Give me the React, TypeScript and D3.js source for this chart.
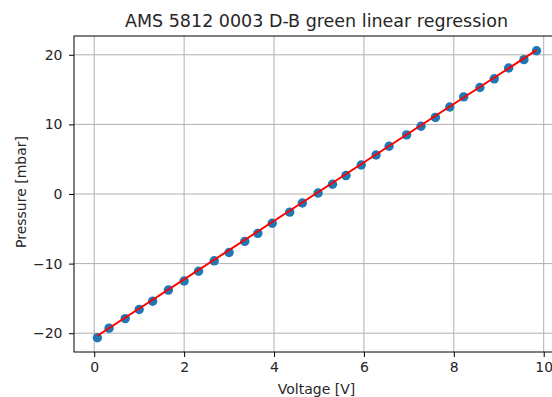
import React, { useEffect, useRef } from 'react';
import * as d3 from 'd3';

// readings
const voltage = [0.07, 0.33, 0.69, 1.0, 1.3, 1.65, 2.0, 2.32, 2.67, 3.0, 3.35, 3.64, 3.96, 4.35, 4.63, 4.98,
    5.3, 5.6, 5.94, 6.27, 6.56, 6.95, 7.27, 7.59, 7.91, 8.22, 8.58, 8.9, 9.22, 9.56, 9.84];
const pressure = [-20.66, -19.28, -17.9, -16.6, -15.4, -13.8, -12.5, -11.1, -9.6, -8.4, -6.8, -5.65, -4.2, -2.6, -1.3, 0.14,
    1.4, 2.65, 4.17, 5.6, 6.86, 8.5, 9.74, 11.0, 12.5, 13.96, 15.3, 16.55, 18.1, 19.3, 20.58];

// regression fit
const slope = 4.2;
const intercept = -20.66;

const xTicks = [0, 2, 4, 6, 8, 10];
const yTicks = [-20, -10, 0, 10, 20];
const xLimits = [-0.45, 10.34];
const yLimits = [-22.7, 22.7];

const title = 'AMS 5812 0003 D-B green linear regression';
const xLabel = 'Voltage [V]';
const yLabel = 'Pressure [mbar]';

const width = 552;
const height = 397;

const App: React.FC = () => {
    const svgRef = useRef<SVGSVGElement | null>(null);

    useEffect(() => {
        if (!svgRef.current) return;
        const svg = d3.select(svgRef.current);
        svg.selectAll('*').remove();

        const margin = { top: 36, right: -7, bottom: 45, left: 74 };

        const xScale = d3.scaleLinear()
            .domain(xLimits)
            .range([margin.left, width - margin.right]);

        const yScale = d3.scaleLinear()
            .domain(yLimits)
            .range([height - margin.bottom, margin.top]);

        const font = 'DejaVu Sans, sans-serif';

        // grid
        const grid = svg.append('g');
        grid.selectAll('line.gx')
            .data(xTicks)
            .enter().append('line')
            .attr('x1', d => xScale(d))
            .attr('x2', d => xScale(d))
            .attr('y1', margin.top)
            .attr('y2', height - margin.bottom)
            .attr('stroke', '#b0b0b0')
            .attr('stroke-width', 1);
        grid.selectAll('line.gy')
            .data(yTicks)
            .enter().append('line')
            .attr('y1', d => yScale(d))
            .attr('y2', d => yScale(d))
            .attr('x1', margin.left)
            .attr('x2', width - margin.right)
            .attr('stroke', '#b0b0b0')
            .attr('stroke-width', 1);

        // scatter
        svg.append('g')
            .selectAll('circle')
            .data(voltage)
            .enter().append('circle')
            .attr('cx', d => xScale(d))
            .attr('cy', (d, i) => yScale(pressure[i]))
            .attr('r', 4.7)
            .attr('fill', '#1f77b4');

        // fit line
        const xMin = d3.min(voltage)!;
        const xMax = d3.max(voltage)!;
        svg.append('line')
            .attr('x1', xScale(xMin))
            .attr('y1', yScale(slope * xMin + intercept))
            .attr('x2', xScale(xMax))
            .attr('y2', yScale(slope * xMax + intercept))
            .attr('stroke', 'red')
            .attr('stroke-width', 2);

        // axes
        const xAxis = d3.axisBottom(xScale).tickValues(xTicks).tickSize(5).tickPadding(5.5).tickFormat(d3.format('d'));
        const gx = svg.append('g')
            .attr('transform', `translate(0, ${height - margin.bottom})`)
            .call(xAxis);
        gx.select('.domain').remove();
        gx.selectAll('text').attr('font-family', font).attr('font-size', 14).attr('fill', '#262626');

        const yAxis = d3.axisLeft(yScale).tickValues(yTicks).tickSize(5).tickPadding(6.5).tickFormat(d => d3.format('d')(d as number).replace('-', '\u2212'));
        const gy = svg.append('g')
            .attr('transform', `translate(${margin.left}, 0)`)
            .call(yAxis);
        gy.select('.domain').remove();
        gy.selectAll('text').attr('font-family', font).attr('font-size', 14).attr('fill', '#262626');

        // frame
        svg.append('rect')
            .attr('x', margin.left)
            .attr('y', margin.top)
            .attr('width', width - margin.right - margin.left)
            .attr('height', height - margin.bottom - margin.top)
            .attr('fill', 'none')
            .attr('stroke', 'black')
            .attr('stroke-width', 1);

        svg.append('text')
            .attr('x', (margin.left + width - margin.right) / 2)
            .attr('y', 27)
            .attr('text-anchor', 'middle')
            .attr('font-family', font)
            .attr('font-size', 17.5)
            .attr('fill', '#262626')
            .text(title);

        svg.append('text')
            .attr('x', 316.5)
            .attr('y', 394)
            .attr('text-anchor', 'middle')
            .attr('font-family', font)
            .attr('font-size', 14)
            .attr('fill', '#262626')
            .text(xLabel);

        svg.append('text')
            .attr('transform', `translate(26, 192) rotate(-90)`)
            .attr('text-anchor', 'middle')
            .attr('font-family', font)
            .attr('font-size', 14)
            .attr('fill', '#262626')
            .text(yLabel);
    }, []);

    return (
        <div style={{ position: 'absolute', left: 0, top: 0 }}>
            <svg ref={svgRef} width={width} height={height} style={{ display: 'block', background: 'white' }}></svg>
        </div>
    );
};

export default App;
